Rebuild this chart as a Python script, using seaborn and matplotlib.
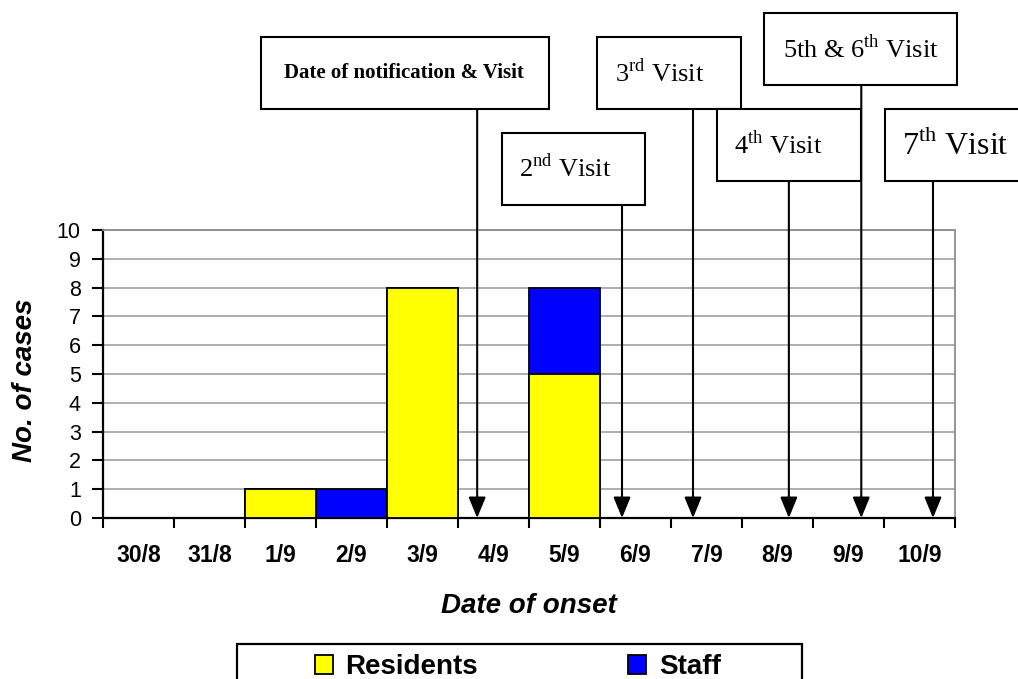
import numpy as np
import pandas as pd
import matplotlib
matplotlib.use('Agg')
import matplotlib.pyplot as plt
from matplotlib.patches import Rectangle, Patch
import seaborn as sns

# data
dates = ['30/8', '31/8', '1/9', '2/9', '3/9', '4/9', '5/9', '6/9', '7/9', '8/9', '9/9', '10/9']
residents = [0, 0, 1, 0, 8, 0, 5, 0, 0, 0, 0, 0]
staff = [0, 0, 0, 1, 0, 0, 3, 0, 0, 0, 0, 0]

visit_labels = ['Date of notification & Visit',
                r'2$^{\mathrm{nd}}$ Visit',
                r'3$^{\mathrm{rd}}$ Visit',
                r'4$^{\mathrm{th}}$ Visit',
                r'5th & 6$^{\mathrm{th}}$ Visit',
                r'7$^{\mathrm{th}}$ Visit']
visit_dates = ['4/9', '6/9', '7/9', '8/9', '9/9', '10/9']

# layout of the callout boxes (pixels from top-left), text centres, sizes, arrow offsets
W, H = 1018, 679
box_px = [(261, 37, 549, 109), (502, 133, 645, 205), (597, 37, 741, 109),
          (717, 109, 861, 181), (764, 13, 957, 85), (885, 109, 1030, 181)]
text_px = [(404, 73), (565, 168), (660, 73), (778, 145), (861, 49), (955, 145)]
text_size = [15, 19, 19, 19, 19, 23]
arrow_off = [-0.23, -0.19, -0.19, 0.16, 0.18, 0.19]

df = pd.DataFrame({'Date': dates, 'Residents': residents, 'Staff': staff})
df['Total'] = df['Residents'] + df['Staff']

sns.set_style('white')
plt.rcParams['font.family'] = ['Liberation Sans', 'DejaVu Sans']
plt.rcParams['mathtext.fontset'] = 'custom'
plt.rcParams['mathtext.rm'] = 'Liberation Serif'
plt.rcParams['text.color'] = 'black'
plt.rcParams['axes.labelcolor'] = 'black'
plt.rcParams['xtick.color'] = 'black'
plt.rcParams['ytick.color'] = 'black'

fig = plt.figure(figsize=(W / 100, H / 100), dpi=100)
ax = fig.add_axes([103 / W, 1 - 518 / H, 852 / W, 288 / H])


def fx(px):
    return px / W


def fy(py):
    return 1 - py / H


# stacked bars: total (staff colour) underneath, residents over it
sns.barplot(data=df, x='Date', y='Total', order=dates, color='#0000FF', saturation=1,
            width=1.0, edgecolor='black', linewidth=1.3, ax=ax, zorder=3)
sns.barplot(data=df, x='Date', y='Residents', order=dates, color='#FFFF00', saturation=1,
            width=1.0, edgecolor='black', linewidth=1.3, ax=ax, zorder=4)

ax.set_xlim(-0.5, len(dates) - 0.5)
ax.set_ylim(0, 10)
ax.set_yticks(range(0, 11))
ax.set_yticklabels([str(v) for v in range(0, 11)], fontsize=15.5, color='black')
ax.set_axisbelow(True)
ax.yaxis.grid(True, color='#999999', linewidth=1.1)
ax.xaxis.grid(False)

ax.set_xticks(np.arange(-0.5, len(dates), 1.0), labels=[''] * (len(dates) + 1))
ax.set_xticks(np.arange(len(dates)), minor=True)
ax.set_xticklabels(dates, minor=True, fontsize=16.5, fontweight='bold', color='black')
ax.tick_params(axis='x', which='major', length=7, width=1.5, direction='out', bottom=True,
               color='black')
ax.tick_params(axis='x', which='minor', length=0, pad=19)
ax.tick_params(axis='y', length=8, width=1.5, direction='out', left=True, pad=8,
               color='black')

for s in ['left', 'bottom']:
    ax.spines[s].set_color('black')
    ax.spines[s].set_linewidth(1.6)
for s in ['top', 'right']:
    ax.spines[s].set_visible(True)
    ax.spines[s].set_color('#8c8c8c')
    ax.spines[s].set_linewidth(1.3)

ax.set_xlabel('Date of onset', fontsize=20, fontweight='bold', fontstyle='italic',
              color='black')
ax.xaxis.set_label_coords(0.5, -0.306)
ax.xaxis.label.set_va('center')
ax.set_ylabel('No. of cases', fontsize=20, fontweight='bold', fontstyle='italic',
              color='black')
ax.yaxis.set_label_coords(-0.092, 0.479)
ax.yaxis.label.set_va('center')

# callout boxes with arrows pointing at the visit dates
for i, lab in enumerate(visit_labels):
    x0, y0, x1, y1 = box_px[i]
    fig.patches.append(Rectangle((fx(x0), fy(y1)), fx(x1) - fx(x0), fy(y0) - fy(y1),
                                 transform=fig.transFigure, facecolor='white',
                                 edgecolor='black', linewidth=1.5, zorder=5))
    tx, ty = text_px[i]
    fig.text(fx(tx), fy(ty), lab, ha='center', va='center', fontsize=text_size[i],
             family='Liberation Serif', fontweight='bold' if i == 0 else 'normal',
             color='black', zorder=6)
    xpos = dates.index(visit_dates[i]) + arrow_off[i]
    ax.annotate('', xy=(xpos, 0), xycoords='data', xytext=(xpos, fy(y1)),
                textcoords=('data', 'figure fraction'), annotation_clip=False,
                arrowprops=dict(arrowstyle='-|>,head_length=0.85,head_width=0.35',
                                color='black', lw=1.5, shrinkA=0, shrinkB=0,
                                mutation_scale=15), zorder=6)

# legend with its own frame
fig.patches.append(Rectangle((fx(237), fy(700)), fx(802) - fx(237), fy(644) - fy(700),
                             transform=fig.transFigure, facecolor='white',
                             edgecolor='black', linewidth=1.6))
handles = [Patch(facecolor='#FFFF00', edgecolor='black', linewidth=1.3, label='Residents'),
           Patch(facecolor='#0000FF', edgecolor='black', linewidth=1.3, label='Staff')]
leg = fig.legend(handles=handles, loc='center left', bbox_to_anchor=(fx(315), fy(667)),
                 ncol=2, frameon=False, prop={'weight': 'bold', 'size': 20},
                 handlelength=0.65, handleheight=0.65, handletextpad=0.45,
                 columnspacing=5.4, borderpad=0, borderaxespad=0)
for t in leg.get_texts():
    t.set_color('black')

fig.savefig('out.png', dpi=100)
